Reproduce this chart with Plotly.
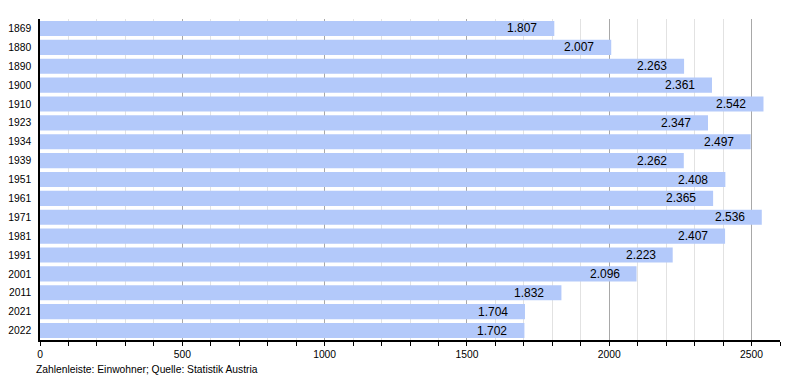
import plotly.graph_objects as go

years = ["1869", "1880", "1890", "1900", "1910", "1923", "1934", "1939", "1951",
         "1961", "1971", "1981", "1991", "2001", "2011", "2021", "2022"]
population = [1807, 2007, 2263, 2361, 2542, 2347, 2497, 2262, 2408,
              2365, 2536, 2407, 2223, 2096, 1832, 1704, 1702]
labels = [f"{v:,}".replace(",", ".") for v in population]
caption = "Zahlenleiste: Einwohner; Quelle: Statistik Austria"

FONT = "Liberation Sans, Arial, sans-serif"

fig = go.Figure(go.Bar(
    x=population, y=years, orientation="h",
    marker=dict(color="#B3C9FA", line=dict(width=0)),
    width=0.8,
    textposition="none",
    hoverinfo="x+y",
))

annotations = [
    dict(x=v, y=i, xref="x", yref="y", text=t, showarrow=False,
         xanchor="right", yanchor="middle", xshift=-15,
         font=dict(size=12, color="black", family=FONT))
    for i, (v, t) in enumerate(zip(population, labels))
]
annotations.append(dict(
    text=caption, xref="paper", yref="paper", x=0, y=0,
    xanchor="left", yanchor="top", xshift=-6, yshift=-22, showarrow=False,
    font=dict(size=10.3, color="black", family=FONT),
))

# page body has an 8px margin, so shrink the figure and margins to compensate
fig.update_layout(
    width=792, height=372,
    margin=dict(l=32, r=20, t=11, b=40, autoexpand=False),
    plot_bgcolor="white", paper_bgcolor="white",
    font=dict(family=FONT, size=10, color="black"),
    showlegend=False,
    bargap=0.2,
    xaxis=dict(
        range=[0, 2600], tickvals=[0, 500, 1000, 1500, 2000, 2500],
        showgrid=True, gridcolor="#a8a8a8", gridwidth=1,
        showline=True, linecolor="black", linewidth=1.5,
        ticks="outside", ticklen=4, tickcolor="black",
        ticklabelstandoff=0,
        tickfont=dict(size=10.3),
        minor=dict(dtick=100, tick0=0, showgrid=True, gridcolor="#e2e2e2",
                   ticks="outside", ticklen=4, tickcolor="black"),
        zeroline=False, fixedrange=True, automargin=False,
    ),
    yaxis=dict(
        type="category", categoryorder="array", categoryarray=years,
        range=[len(years) - 0.5, -0.5],
        showgrid=False, showline=True, linecolor="black", linewidth=1.5,
        ticks="", ticklabelstandoff=5, tickfont=dict(size=10.3),
        fixedrange=True, automargin=False,
    ),
    annotations=annotations,
)

fig.write_html("out.html")
